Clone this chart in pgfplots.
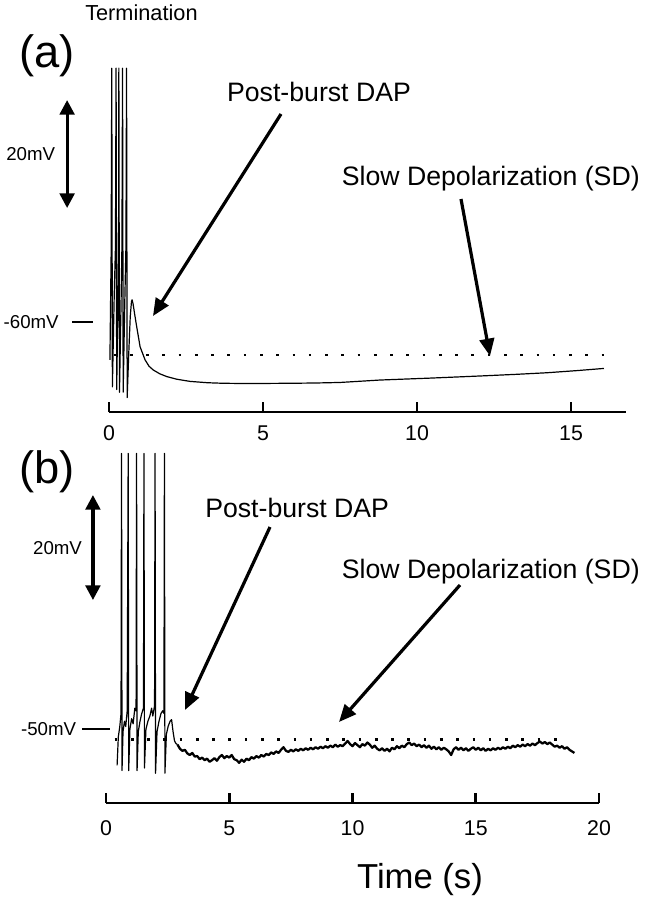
\documentclass[border=0pt]{standalone}
\usepackage{pgfplots}
\pgfplotsset{compat=1.18}
\usepackage{fontspec}
\setmainfont{Liberation Sans}
\usetikzlibrary{arrows.meta}

\pgfplotsset{
  trace axis/.style={
    axis x line=bottom, axis y line=none,
    axis line style={-}, x axis line style={-, line width=2pt},
    tick align=inside, major tick length=7.5pt,
    xtick style={line width=2pt, black},
    /pgf/number format/assume math mode=true,
    clip=false, enlargelimits=false,
  }
}
\tikzset{
  scalearrow/.style={line width=2.4pt, {Triangle[length=11pt,width=11pt]}-{Triangle[length=11pt,width=11pt]}},
  annarrow/.style={line width=2.4pt, -{Triangle[length=13pt,width=11pt]}},
  dotline/.style={black, line width=2pt, dash pattern=on 2pt off 10.2pt},
  mvfont/.style={font=\fontsize{14}{17}\selectfont},
  annfont/.style={font=\fontsize{20}{24}\selectfont},
}

\begin{document}
\begin{tikzpicture}
\path[use as bounding box] (0pt,0pt) rectangle (483pt,-674.25pt);

% ---------------- panel (a)
\begin{axis}[trace axis,
  at={(81.75pt,-309pt)}, anchor=south west,
  x=23.1pt, y=4.05pt,
  xmin=0, xmax=16.8, ymin=-76.67, ymax=-10,
  xtick={0,5,10,15},
  xticklabel style={font=\fontsize{16}{16}\selectfont, yshift=-7pt},
]
\addplot[black, line width=0.9pt, line join=round] coordinates {
(0.03,-67) (0.07,-47) (0.09,-13) (0.11,-72)
(0.17,-55) (0.21,-46) (0.23,-13) (0.25,-72.5)
(0.29,-56) (0.31,-46) (0.32,-13) (0.34,-73)
(0.39,-57) (0.42,-46) (0.44,-13) (0.46,-73)
(0.51,-57) (0.55,-46) (0.57,-13) (0.59,-74)
(0.64,-66) (0.69,-59) (0.73,-56.2) (0.75,-55.9) (0.78,-56.6)
(0.84,-58.8) (0.90,-60.9) (1.01,-64.6) (1.17,-67.0) (1.30,-68.2)
(1.44,-68.9) (1.65,-69.6) (1.87,-70.1) (2.2,-70.6) (2.63,-71.0)
(3.2,-71.25) (3.7,-71.35) (4.5,-71.4) (5.88,-71.35) (6.7,-71.3)
(7.5,-71.2) (8.8,-70.75) (10.4,-70.4) (12.05,-70.0) (13.2,-69.7)
(14.22,-69.4) (15.2,-69.0) (16.07,-68.6)
};
\addplot[dotline] coordinates {(0.15,-66.1) (16.5,-66.1)};
\draw[scalearrow] (axis cs:-1.36,-38.9) -- (axis cs:-1.36,-18.9);
\node[anchor=east, xshift=-5.5pt, mvfont] at (axis cs:-1.36,-28.9) {20mV};
\draw[line width=1.5pt] (axis cs:-1.20,-60) -- (axis cs:-0.52,-60);
\node[anchor=east, xshift=-6.5pt, mvfont] at (axis cs:-1.20,-60) {-60mV};
\end{axis}

% ---------------- panel (b)
\begin{axis}[trace axis,
  at={(79.5pt,-602.25pt)}, anchor=south west,
  x=18.49pt, y=3.9pt,
  xmin=0, xmax=20, ymin=-64.23, ymax=5,
  xtick={0,5,10,15,20},
  xticklabel style={font=\fontsize{16}{16}\selectfont, yshift=-9.5pt},
]
\addplot[black, line width=0.9pt, line join=round] coordinates {
(0.45,-57.0) (0.50,-51.5) (0.56,-49.5) (0.61,-47.0) (0.63,3.0) (0.65,-58.0)
(0.69,-50.5) (0.75,-48.5) (0.80,-49.5) (0.86,-46.5) (0.90,3.0) (0.92,-58.0)
(0.97,-50.0) (1.04,-48.0) (1.10,-49.0) (1.17,-46.0) (1.22,-46.5) (1.24,3.0) (1.26,-58.0)
(1.31,-50.5) (1.38,-48.5) (1.45,-47.0) (1.52,-46.0) (1.54,3.0) (1.56,-57.5)
(1.62,-50.0) (1.70,-48.5) (1.78,-47.5) (1.85,-46.0) (1.90,-47.5) (1.97,-45.5) (1.99,3.0) (2.01,-58.5)
(2.07,-50.5) (2.15,-48.5) (2.23,-47.0) (2.30,-46.5) (2.35,-47.0) (2.37,3.0) (2.39,-58.5)
(2.45,-51.0) (2.52,-49.5) (2.60,-48.5) (2.66,-48.2) (2.72,-50.5) (2.78,-52.3) (2.84,-52.8) (2.90,-53.0)
};
\addplot[black, line width=1.7pt, line join=round] coordinates {
(2.90,-53.0) (3.0,-53.8) (3.1,-54.2) (3.2,-54.0) (3.3,-54.7) (3.4,-55.0) (3.5,-54.6)
(3.6,-55.3) (3.7,-55.2) (3.8,-55.8) (3.9,-55.5) (4.0,-56.0) (4.1,-55.7) (4.2,-56.3)
(4.3,-56.0) (4.4,-55.6) (4.5,-56.1) (4.6,-55.4) (4.7,-55.0) (4.8,-55.6) (4.9,-55.2)
(5.0,-55.5) (5.1,-55.0) (5.2,-55.8) (5.3,-56.0) (5.4,-56.5) (5.5,-55.9) (5.6,-56.3)
(5.7,-55.7) (5.8,-56.0) (5.9,-55.4) (6.0,-55.7) (6.1,-55.2) (6.2,-55.5) (6.3,-55.0)
(6.4,-55.3) (6.5,-54.8) (6.6,-55.0) (6.7,-54.5) (6.8,-54.8) (6.9,-54.3) (7.0,-54.6)
(7.1,-54.0) (7.2,-53.5) (7.3,-54.2) (7.4,-54.4) (7.5,-54.0) (7.6,-54.3) (7.7,-53.9)
(7.8,-54.2) (7.9,-53.8) (8.0,-54.1) (8.1,-53.7) (8.2,-54.0) (8.3,-53.6) (8.4,-53.9)
(8.5,-53.5) (8.6,-53.8) (8.7,-53.4) (8.8,-53.7) (8.9,-53.3) (9.0,-53.6) (9.1,-53.2)
(9.2,-53.5) (9.3,-53.0) (9.4,-53.4) (9.5,-53.1) (9.6,-53.3) (9.7,-52.8) (9.8,-52.3)
(9.9,-52.9) (10.0,-53.3) (10.1,-52.7) (10.2,-53.1) (10.3,-53.5) (10.4,-52.9) (10.5,-53.2)
(10.6,-52.6) (10.7,-53.0) (10.8,-53.6) (10.9,-53.2) (11.0,-53.8) (11.1,-54.1) (11.2,-53.7)
(11.3,-54.2) (11.4,-53.8) (11.5,-54.3) (11.6,-53.6) (11.7,-53.9) (11.8,-53.3) (11.9,-53.7)
(12.0,-53.2) (12.1,-53.5) (12.2,-52.9) (12.3,-52.6) (12.4,-53.1) (12.5,-52.8) (12.6,-53.3)
(12.7,-53.0) (12.8,-53.5) (12.9,-53.1) (13.0,-53.6) (13.1,-53.2) (13.2,-53.8) (13.3,-53.4)
(13.4,-53.9) (13.5,-53.5) (13.6,-54.0) (13.7,-53.6) (13.8,-53.9) (13.9,-54.3) (14.0,-55.0)
(14.1,-53.9) (14.2,-53.5) (14.3,-54.0) (14.4,-53.6) (14.5,-54.1) (14.6,-53.7) (14.7,-54.2)
(14.8,-53.8) (14.9,-53.5) (15.0,-54.0) (15.1,-53.6) (15.2,-54.1) (15.3,-53.7) (15.4,-54.2)
(15.5,-53.8) (15.6,-54.1) (15.7,-53.7) (15.8,-54.0) (15.9,-53.6) (16.0,-53.9) (16.1,-53.5)
(16.2,-53.8) (16.3,-53.4) (16.4,-53.7) (16.5,-53.2) (16.6,-53.5) (16.7,-53.1) (16.8,-53.4)
(16.9,-53.0) (17.0,-53.3) (17.1,-52.9) (17.2,-53.2) (17.3,-52.8) (17.4,-53.1) (17.5,-52.7)
(17.6,-52.4) (17.7,-52.8) (17.8,-52.5) (17.9,-52.9) (18.0,-52.6) (18.1,-53.0) (18.2,-53.4)
(18.3,-53.2) (18.4,-53.6) (18.5,-53.3) (18.6,-53.8) (18.7,-53.5) (18.8,-54.0) (18.9,-54.3)
(19.0,-54.6)
};
\addplot[dotline] coordinates {(0.35,-52) (18.4,-52)};
\draw[scalearrow] (axis cs:-0.53,-25.2) -- (axis cs:-0.53,-5.0);
\node[anchor=east, xshift=-4.75pt, mvfont] at (axis cs:-0.53,-15.2) {20mV};
\draw[line width=1.5pt] (axis cs:-0.97,-50) -- (axis cs:0.16,-50);
\node[anchor=east, xshift=-1pt, mvfont] at (axis cs:-0.97,-50) {-50mV};
\end{axis}

% ---------------- annotations
\begin{scope}[x=0.75pt,y=-0.75pt]
\node[anchor=base west, inner sep=0pt, font=\fontsize{16.3}{18}\selectfont] at (85,21) {Termination};
\node[font=\fontsize{34}{36}\selectfont] at (47,56) {(a)};
\node[anchor=base, inner sep=0pt, annfont] at (319,101) {Post-burst DAP};
\draw[annarrow] (281,114) -- (153,316);
\node[anchor=base east, inner sep=0pt, annfont] at (640,185) {Slow Depolarization (SD)};
\draw[annarrow] (461,199) -- (490,356);
\node[font=\fontsize{34}{36}\selectfont] at (47,472) {(b)};
\node[anchor=base west, inner sep=0pt, annfont] at (205,517) {Post-burst DAP};
\draw[annarrow] (270,527) -- (185,710);
\node[anchor=base east, inner sep=0pt, annfont] at (640,578) {Slow Depolarization (SD)};
\draw[annarrow] (460,585) -- (339,722);
\node[anchor=base, inner sep=0pt, font=\fontsize{26}{30}\selectfont] at (420,888) {Time (s)};
\end{scope}
\end{tikzpicture}
\end{document}
